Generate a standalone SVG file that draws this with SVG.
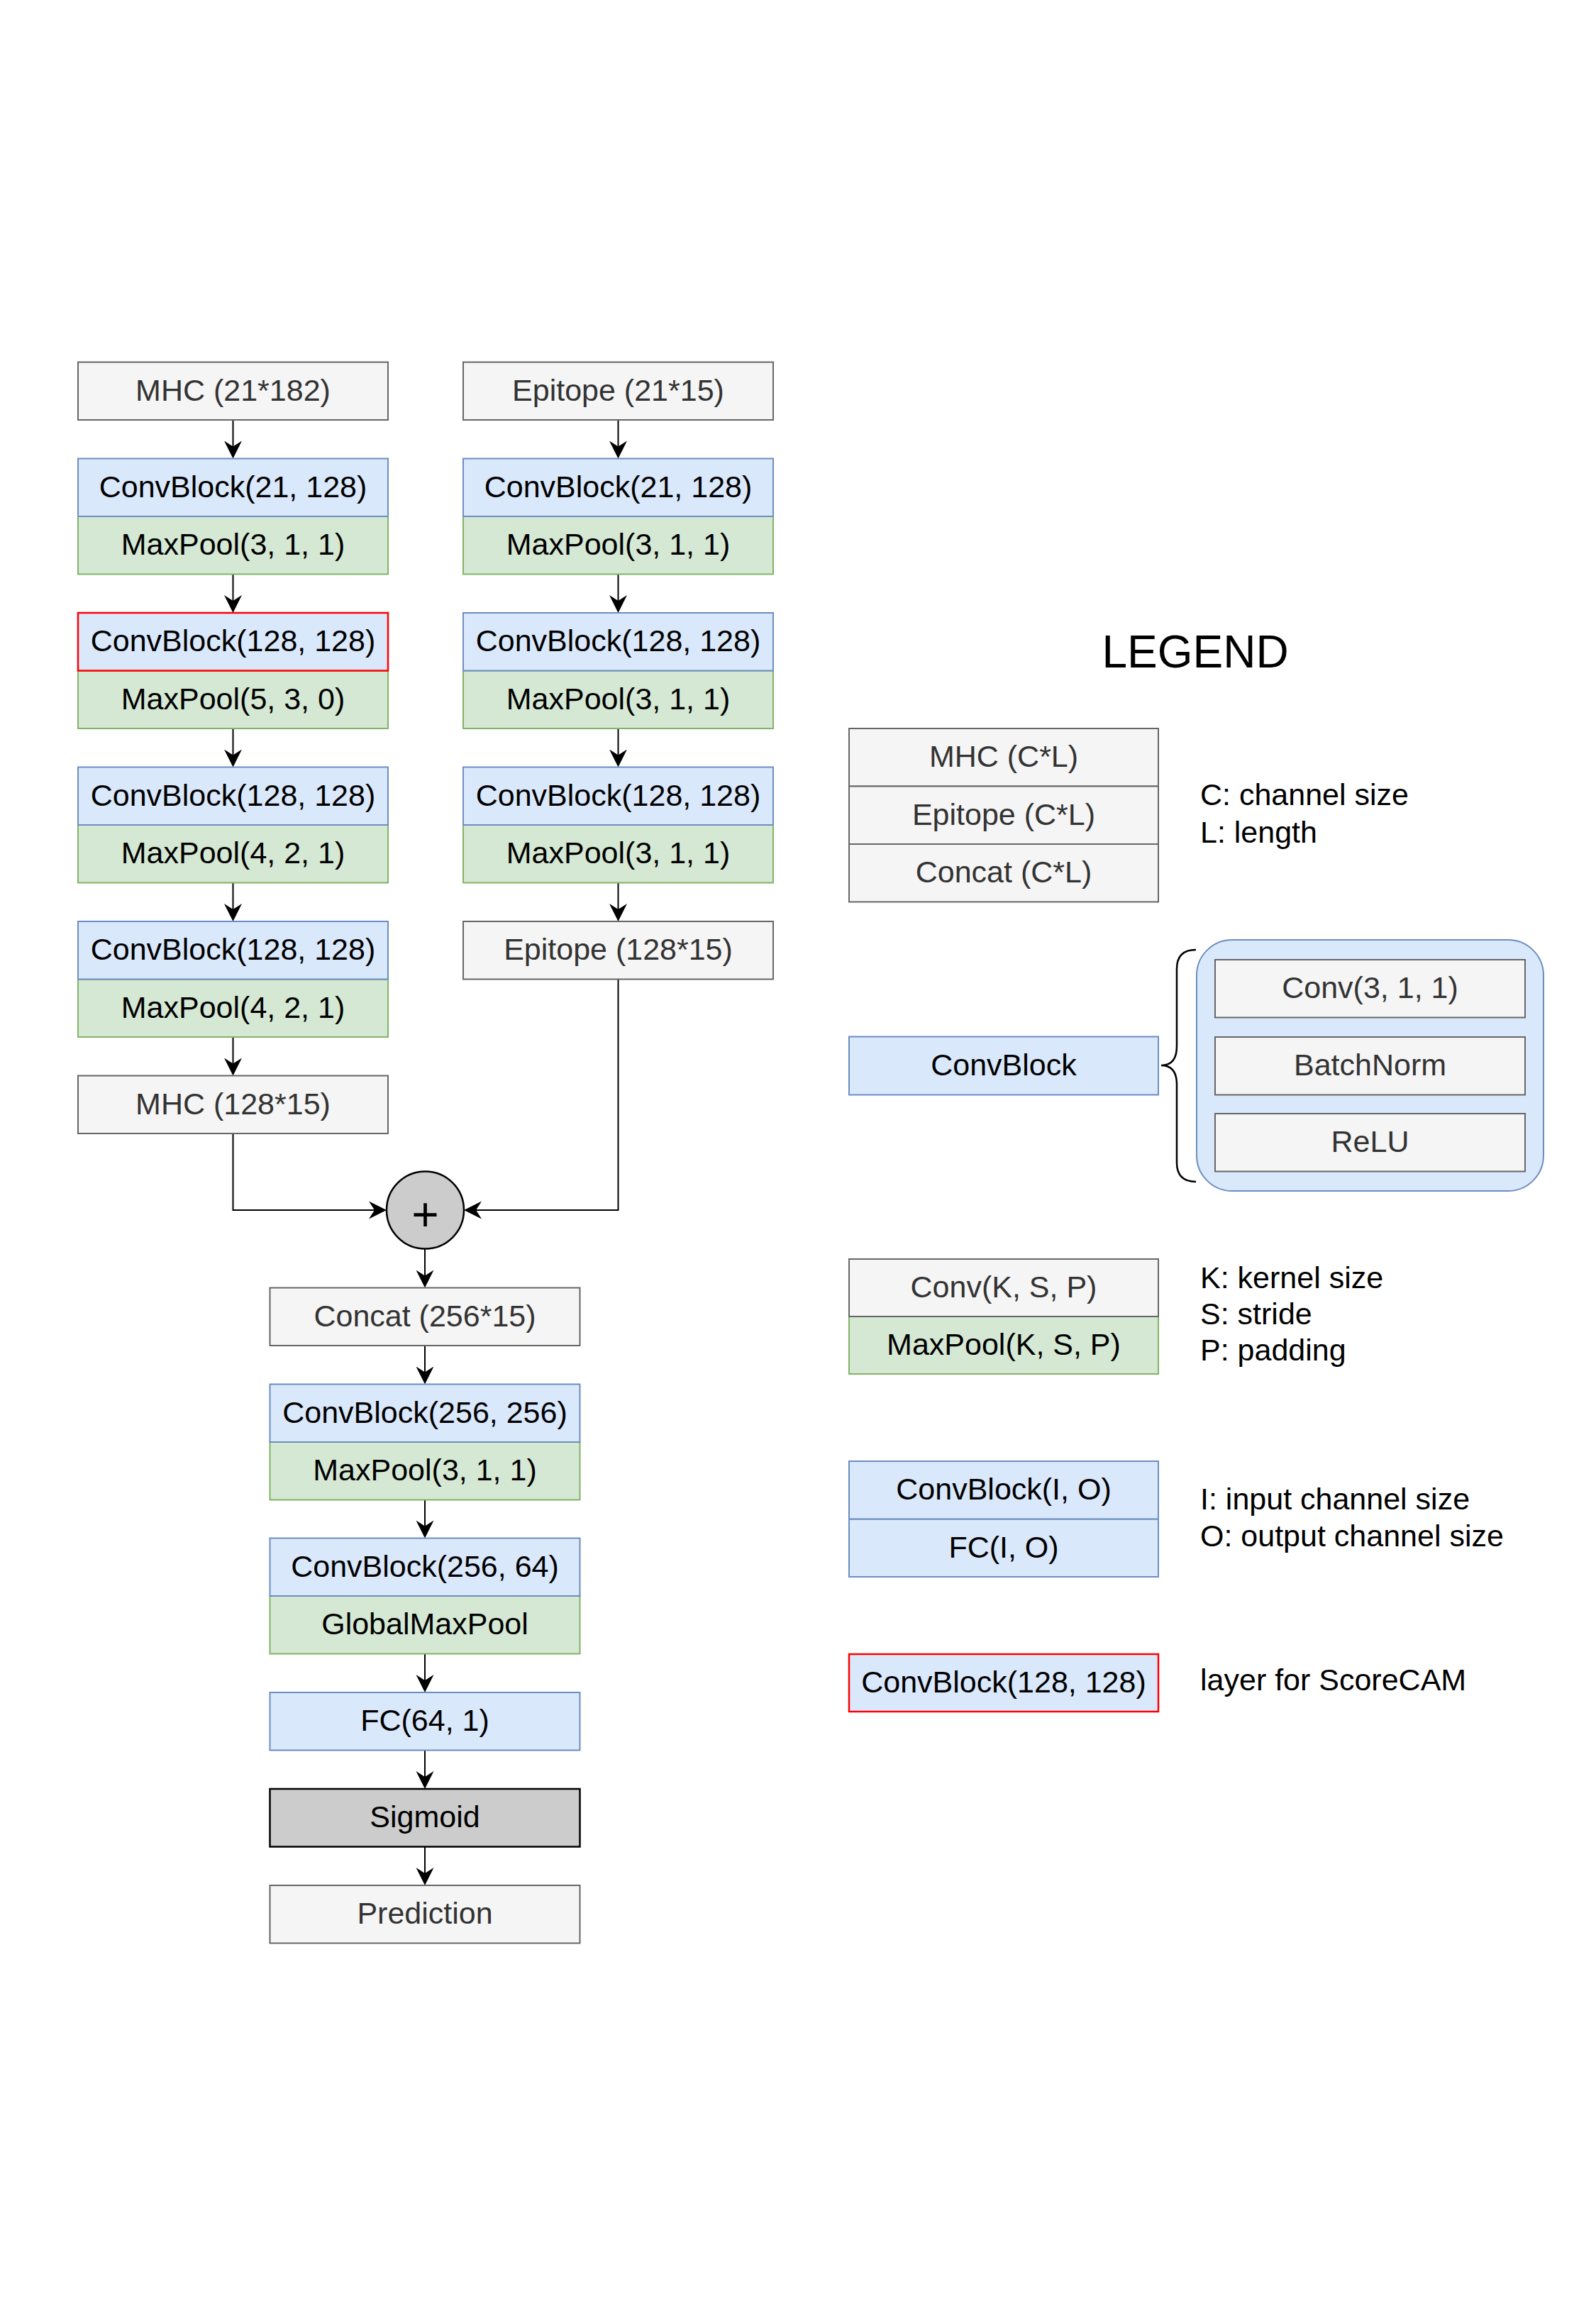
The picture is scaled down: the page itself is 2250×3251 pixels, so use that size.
<svg xmlns="http://www.w3.org/2000/svg" width="2250" height="3251" viewBox="0 0 2250 3251">
<defs>
<style>
.t{font-family:"Liberation Sans",Arial,sans-serif;font-size:43px;text-anchor:middle}
.l{font-family:"Liberation Sans",Arial,sans-serif;font-size:43px;fill:#000}
.gray{fill:#f5f5f5;stroke:#666666;stroke-width:2}
.blue{fill:#dae8fc;stroke:#6c8ebf;stroke-width:2}
.green{fill:#d5e8d4;stroke:#82b366;stroke-width:2}
.red{fill:#dae8fc;stroke:#ff0000;stroke-width:2.5}
.sig{fill:#cccccc;stroke:#000000;stroke-width:2.5}
.tg{fill:#333333}
.tb{fill:#000000}
.edge{fill:none;stroke:#000;stroke-width:2;marker-end:url(#arr)}
</style>
<marker id="arr" markerUnits="userSpaceOnUse" markerWidth="26" markerHeight="26" refX="19" refY="12.5" orient="auto">
<path d="M0,0 L25,12.5 L0,25 L8,12.5 Z" fill="#000"/>
</marker>
</defs>
<rect width="2250" height="3251" fill="#ffffff"/>

<g id="connectors">
<path class="edge" d="M328.5,592 V640.5"/>
<path class="edge" d="M328.5,809.5 V858"/>
<path class="edge" d="M328.5,1027 V1075.5"/>
<path class="edge" d="M328.5,1244.5 V1293"/>
<path class="edge" d="M328.5,1462 V1510.5"/>
<path class="edge" d="M328.5,1598 V1706 H539"/>
<path class="edge" d="M871.5,592 V640.5"/>
<path class="edge" d="M871.5,809.5 V858"/>
<path class="edge" d="M871.5,1027 V1075.5"/>
<path class="edge" d="M871.5,1244.5 V1293"/>
<path class="edge" d="M871.5,1380.5 V1706 H660"/>
<path class="edge" d="M599,1760.5 V1809.5"/>
<path class="edge" d="M599,1897 V1945.5"/>
<path class="edge" d="M599,2114.5 V2162.5"/>
<path class="edge" d="M599,2331.5 V2380"/>
<path class="edge" d="M599,2467.5 V2516"/>
<path class="edge" d="M599,2603.5 V2652"/>
</g>

<!-- Left column -->
<g id="mhc-in"><rect class="gray" x="110" y="510.5" width="437" height="81.5"/><text class="t tg" x="328.5" y="564.5">MHC (21*182)</text></g>
<g id="mhc-b1">
<rect class="green" x="110" y="728" width="437" height="81.5"/><text class="t tb" x="328.5" y="782">MaxPool(3, 1, 1)</text>
<rect class="blue" x="110" y="646.5" width="437" height="81.5"/><text class="t tb" x="328.5" y="700.5">ConvBlock(21, 128)</text>
</g>
<g id="mhc-b2">
<rect class="green" x="110" y="945.5" width="437" height="81.5"/><text class="t tb" x="328.5" y="999.5">MaxPool(5, 3, 0)</text>
<rect class="red" x="110" y="864" width="437" height="81.5"/><text class="t tb" x="328.5" y="918">ConvBlock(128, 128)</text>
</g>
<g id="mhc-b3">
<rect class="green" x="110" y="1163" width="437" height="81.5"/><text class="t tb" x="328.5" y="1217">MaxPool(4, 2, 1)</text>
<rect class="blue" x="110" y="1081.5" width="437" height="81.5"/><text class="t tb" x="328.5" y="1135.5">ConvBlock(128, 128)</text>
</g>
<g id="mhc-b4">
<rect class="green" x="110" y="1380.5" width="437" height="81.5"/><text class="t tb" x="328.5" y="1434.5">MaxPool(4, 2, 1)</text>
<rect class="blue" x="110" y="1299" width="437" height="81.5"/><text class="t tb" x="328.5" y="1353">ConvBlock(128, 128)</text>
</g>
<g id="mhc-out"><rect class="gray" x="110" y="1516.5" width="437" height="81.5"/><text class="t tg" x="328.5" y="1570.5">MHC (128*15)</text></g>

<!-- Right column -->
<g id="epi-in"><rect class="gray" x="653" y="510.5" width="437" height="81.5"/><text class="t tg" x="871.5" y="564.5">Epitope (21*15)</text></g>
<g id="epi-b1">
<rect class="green" x="653" y="728" width="437" height="81.5"/><text class="t tb" x="871.5" y="782">MaxPool(3, 1, 1)</text>
<rect class="blue" x="653" y="646.5" width="437" height="81.5"/><text class="t tb" x="871.5" y="700.5">ConvBlock(21, 128)</text>
</g>
<g id="epi-b2">
<rect class="green" x="653" y="945.5" width="437" height="81.5"/><text class="t tb" x="871.5" y="999.5">MaxPool(3, 1, 1)</text>
<rect class="blue" x="653" y="864" width="437" height="81.5"/><text class="t tb" x="871.5" y="918">ConvBlock(128, 128)</text>
</g>
<g id="epi-b3">
<rect class="green" x="653" y="1163" width="437" height="81.5"/><text class="t tb" x="871.5" y="1217">MaxPool(3, 1, 1)</text>
<rect class="blue" x="653" y="1081.5" width="437" height="81.5"/><text class="t tb" x="871.5" y="1135.5">ConvBlock(128, 128)</text>
</g>
<g id="epi-out"><rect class="gray" x="653" y="1299" width="437" height="81.5"/><text class="t tg" x="871.5" y="1353">Epitope (128*15)</text></g>

<!-- Merge -->
<g id="plus">
<circle cx="599.5" cy="1706" r="54.5" fill="#cccccc" stroke="#000" stroke-width="2.5"/>
<text x="599.5" y="1735" font-family="Liberation Sans, Arial, sans-serif" font-size="66" text-anchor="middle" fill="#000">+</text>
</g>

<!-- Center column -->
<g id="concat"><rect class="gray" x="380.5" y="1815.5" width="437" height="81.5"/><text class="t tg" x="599" y="1869.5">Concat (256*15)</text></g>
<g id="c-b1">
<rect class="green" x="380.5" y="2033" width="437" height="81.5"/><text class="t tb" x="599" y="2087">MaxPool(3, 1, 1)</text>
<rect class="blue" x="380.5" y="1951.5" width="437" height="81.5"/><text class="t tb" x="599" y="2005.5">ConvBlock(256, 256)</text>
</g>
<g id="c-b2">
<rect class="green" x="380.5" y="2250" width="437" height="81.5"/><text class="t tb" x="599" y="2304">GlobalMaxPool</text>
<rect class="blue" x="380.5" y="2168.5" width="437" height="81.5"/><text class="t tb" x="599" y="2222.5">ConvBlock(256, 64)</text>
</g>
<g id="fc"><rect class="blue" x="380.5" y="2386" width="437" height="81.5"/><text class="t tb" x="599" y="2440">FC(64, 1)</text></g>
<g id="sigmoid"><rect class="sig" x="380.5" y="2522" width="437" height="81.5"/><text class="t tb" x="599" y="2576">Sigmoid</text></g>
<g id="prediction"><rect class="gray" x="380.5" y="2658" width="437" height="81.5"/><text class="t tg" x="599" y="2712">Prediction</text></g>

<!-- Legend -->
<g id="legend-title"><text x="1685" y="941" font-family="Liberation Sans, Arial, sans-serif" font-size="64" text-anchor="middle" fill="#000">LEGEND</text></g>
<g id="legend-shapes">
<rect class="gray" x="1197" y="1027" width="436" height="81.5"/><text class="t tg" x="1415" y="1081">MHC (C*L)</text>
<rect class="gray" x="1197" y="1108.5" width="436" height="81.5"/><text class="t tg" x="1415" y="1162.5">Epitope (C*L)</text>
<rect class="gray" x="1197" y="1190" width="436" height="81.5"/><text class="t tg" x="1415" y="1244">Concat (C*L)</text>
<text class="l" x="1692" y="1135">C: channel size</text>
<text class="l" x="1692" y="1188">L: length</text>
</g>
<g id="legend-convblock">
<rect class="blue" x="1197" y="1461.5" width="436" height="82"/><text class="t tb" x="1415" y="1515.5">ConvBlock</text>
<path d="M1686,1339 Q1659,1339 1659,1366 L1659,1475 Q1659,1502 1637,1502 Q1659,1502 1659,1529 L1659,1639 Q1659,1666 1686,1666" fill="none" stroke="#000" stroke-width="2.5"/>
<rect x="1687" y="1325" width="489" height="354" rx="50" ry="50" fill="#dae8fc" stroke="#6c8ebf" stroke-width="2"/>
<rect class="gray" x="1713" y="1353" width="437" height="81.5"/><text class="t tg" x="1931.5" y="1407">Conv(3, 1, 1)</text>
<rect class="gray" x="1713" y="1462" width="437" height="81.5"/><text class="t tg" x="1931.5" y="1516">BatchNorm</text>
<rect class="gray" x="1713" y="1570" width="437" height="81.5"/><text class="t tg" x="1931.5" y="1624">ReLU</text>
</g>
<g id="legend-pool">
<rect class="green" x="1197" y="1856" width="436" height="81"/><text class="t tb" x="1415" y="1910">MaxPool(K, S, P)</text>
<rect class="gray" x="1197" y="1775" width="436" height="81"/><text class="t tg" x="1415" y="1829">Conv(K, S, P)</text>
<text class="l" x="1692" y="1816">K: kernel size</text>
<text class="l" x="1692" y="1867">S: stride</text>
<text class="l" x="1692" y="1918">P: padding</text>
</g>
<g id="legend-io">
<rect class="blue" x="1197" y="2141.5" width="436" height="81.5"/><text class="t tb" x="1415" y="2195.5">FC(I, O)</text>
<rect class="blue" x="1197" y="2060" width="436" height="81.5"/><text class="t tb" x="1415" y="2114">ConvBlock(I, O)</text>
<text class="l" x="1692" y="2128">I: input channel size</text>
<text class="l" x="1692" y="2180">O: output channel size</text>
</g>
<g id="legend-scorecam">
<rect class="red" x="1197" y="2332" width="436" height="81"/><text class="t tb" x="1415" y="2386">ConvBlock(128, 128)</text>
<text class="l" x="1692" y="2383">layer for ScoreCAM</text>
</g>
</svg>
